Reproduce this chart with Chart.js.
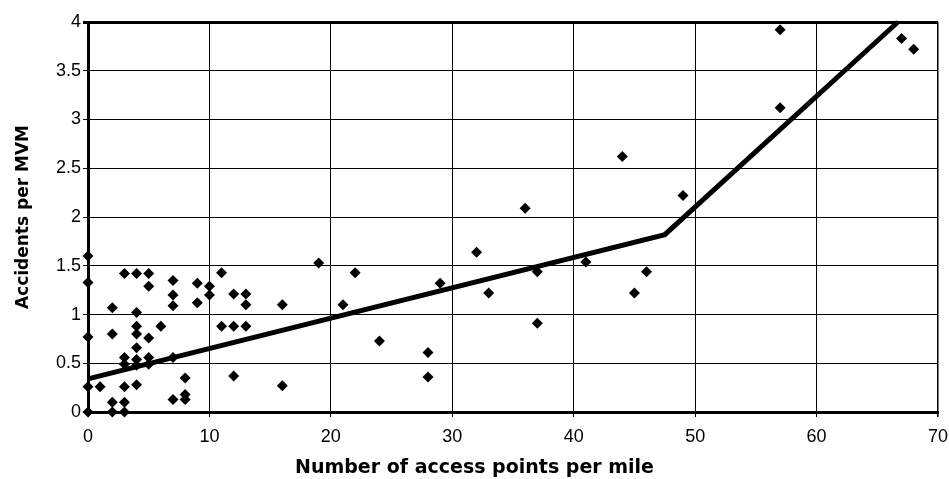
<!DOCTYPE html>
<html>
<head>
<meta charset="utf-8">
<script src="https://cdn.jsdelivr.net/npm/chart.js@4"></script>
<style>
  html, body { margin: 0; padding: 0; background: #fff; }
  #wrap { width: 949px; height: 479px; }
</style>
</head>
<body>
<div id="wrap"><canvas id="accgraph"></canvas></div>
<script>
// observed sites: access points per mile vs accidents per MVM
var accessPts = [0, 0, 0, 0, 0, 1, 2, 2, 2, 2,
    3, 3, 3, 3, 3, 3, 4, 4, 4, 4, 4, 4, 4, 4,
    5, 5, 5, 5, 5, 6, 7, 7, 7, 7, 7, 8, 8, 8,
    9, 9, 10, 10, 11, 11, 12, 12, 12, 13, 13, 13,
    16, 16, 19, 21, 22, 24, 28, 28, 29, 32, 33, 36, 37, 37,
    41, 44, 45, 46, 49, 57, 57, 67, 68];
var accidents = [1.6, 1.33, 0.77, 0.26, 0, 0.26, 1.07, 0.8, 0.1, 0,
    1.42, 0.56, 0.49, 0.26, 0.1, 0, 1.42, 1.02, 0.88, 0.8, 0.66, 0.54, 0.48, 0.28,
    1.42, 1.29, 0.76, 0.56, 0.49, 0.88, 1.35, 1.2, 1.09, 0.56, 0.13, 0.35, 0.18, 0.13,
    1.32, 1.12, 1.29, 1.2, 1.43, 0.88, 1.21, 0.88, 0.37, 1.21, 1.1, 0.88,
    1.1, 0.27, 1.53, 1.1, 1.43, 0.73, 0.61, 0.36, 1.32, 1.64, 1.22, 2.09, 1.44, 0.91,
    1.54, 2.62, 1.22, 1.44, 2.22, 3.92, 3.12, 3.83, 3.72];

// fitted piecewise model
var fitX = [0, 47.5, 66.7];
var fitY = [0.34, 1.82, 4.0];

var sites = [];
for (var i = 0; i < accessPts.length; i++) {
    sites.push({ x: accessPts[i], y: accidents[i] });
}
var fit = [];
for (var j = 0; j < fitX.length; j++) {
    fit.push({ x: fitX[j], y: fitY[j] });
}

var ctx = document.getElementById("accgraph");
var accgraph = new Chart(ctx, {
    type: 'scatter',
    data: {
        datasets: [{
                label: 'fit',
                data: fit,
                showLine: true,
                borderColor: "#000",
                borderWidth: 5,
                pointRadius: 0,
                clip: false,
                order: 1
            },
            {
                label: 'sites',
                data: sites,
                pointStyle: 'rectRot',
                pointRadius: 5.5,
                backgroundColor: "#000",
                borderColor: "#000",
                borderWidth: 0,
                clip: false,
                order: 0
            }
        ]
    },
    options: {
        responsive: true,
        maintainAspectRatio: false,
        animation: false,
        layout: {
            padding: { top: 22, right: 0, left: 0, bottom: 0 }
        },
        plugins: {
            legend: { display: false },
            tooltip: { enabled: false },
            // x axis caption sits centred on the whole picture, not the plot
            title: {
                display: true,
                position: 'bottom',
                text: 'Number of access points per mile',
                color: "#000",
                padding: { top: 0, bottom: 0 },
                font: { family: "'DejaVu Sans', sans-serif", size: 19, weight: 'bold', lineHeight: 1.1 }
            }
        },
        scales: {
            x: {
                type: 'linear',
                min: 0,
                max: 70,
                afterFit: function (scale) {
                    scale.height = 46;
                    scale.paddingRight = 11; // keep the plot reaching x=938
                },
                ticks: {
                    stepSize: 10,
                    color: "#000",
                    padding: 9,
                    font: { family: "'Liberation Sans', Arial, sans-serif", size: 18 }
                },
                grid: {
                    color: "#000",
                    lineWidth: function (c) { return c.tick && c.tick.value === 70 ? 1.5 : 1; },
                    tickLength: 5
                },
                border: { color: "#000", width: 3 }
            },
            y: {
                min: 0,
                max: 4,
                afterFit: function (scale) { scale.width = 88; },
                ticks: {
                    stepSize: 0.5,
                    color: "#000",
                    padding: 2,
                    callback: function (v) { return String(v); },
                    font: { family: "'Liberation Sans', Arial, sans-serif", size: 18 }
                },
                grid: {
                    color: "#000",
                    lineWidth: function (c) { return c.tick && c.tick.value === 4 ? 3 : 1; },
                    tickLength: 5
                },
                border: { color: "#000", width: 3 },
                title: {
                    display: true,
                    text: 'Accidents per MVM',
                    color: "#000",
                    padding: { top: 13, bottom: 0 },
                    font: { family: "'DejaVu Sans', sans-serif", size: 17, weight: 'bold' }
                }
            }
        }
    }
});
</script>
</body>
</html>
